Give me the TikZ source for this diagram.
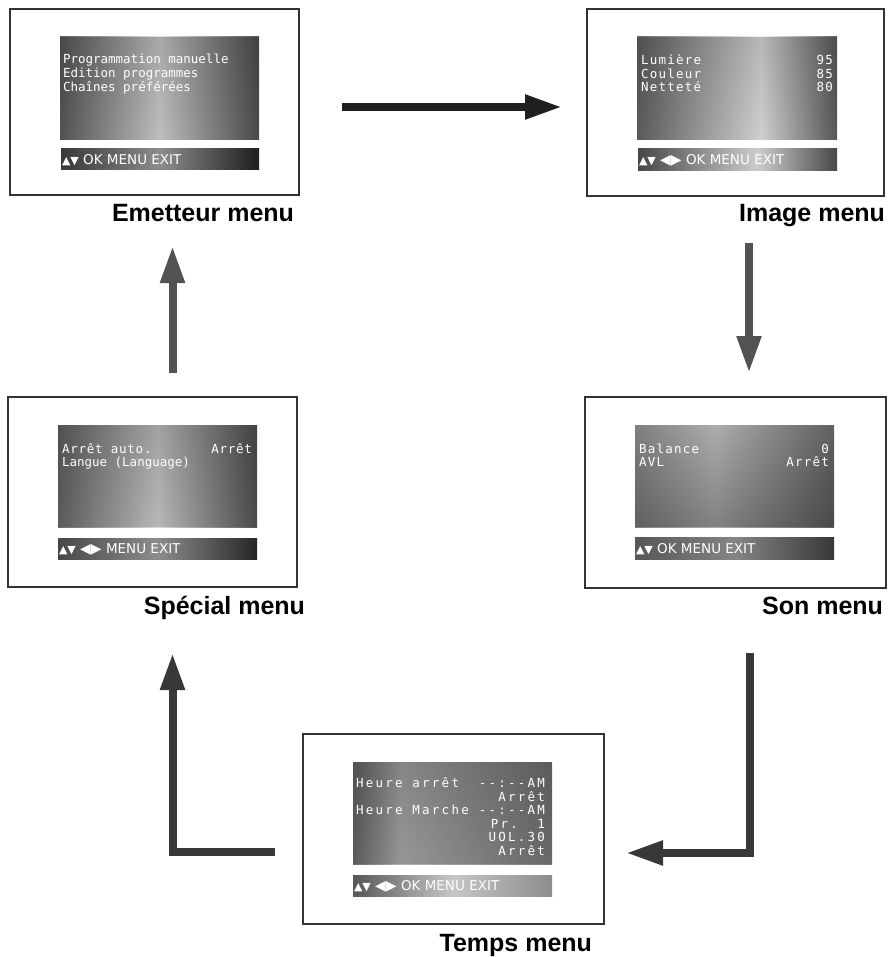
\documentclass[tikz,border=0pt]{standalone}
\usepackage{fontspec}
\setmainfont{Liberation Sans}
\newfontfamily\scrmono{DejaVu Sans Mono}
\newfontfamily\barfnt{DejaVu Sans}
\usetikzlibrary{arrows.meta,fadings}

\tikzfading[name=vfade, top color=transparent!75, middle color=transparent!100, bottom color=transparent!85]
\tikzfading[name=bfade, top color=transparent!100, bottom color=transparent!75]

\pgfdeclarehorizontalshading{shE}{100bp}{color(0bp)=(black!62); color(25bp)=(black!62); color(50bp)=(black!12); color(75bp)=(black!66); color(100bp)=(black!66)}
\pgfdeclarehorizontalshading{shI}{100bp}{color(0bp)=(black!58); color(25bp)=(black!58); color(56bp)=(black!4); color(75bp)=(black!60); color(100bp)=(black!60)}
\pgfdeclarehorizontalshading{shS}{100bp}{color(0bp)=(black!58); color(25bp)=(black!58); color(50bp)=(black!15); color(75bp)=(black!66); color(100bp)=(black!66)}
\pgfdeclarehorizontalshading{shN}{100bp}{color(0bp)=(black!50); color(25bp)=(black!50); color(45bp)=(black!32); color(75bp)=(black!62); color(100bp)=(black!62)}
\pgfdeclarehorizontalshading{shT}{100bp}{color(0bp)=(black!58); color(25bp)=(black!58); color(37bp)=(black!30); color(75bp)=(black!52); color(100bp)=(black!52)}

\pgfdeclarehorizontalshading{bE}{100bp}{color(0bp)=(black!78); color(25bp)=(black!78); color(50bp)=(black!45); color(75bp)=(black!88); color(100bp)=(black!88)}
\pgfdeclarehorizontalshading{bI}{100bp}{color(0bp)=(black!72); color(25bp)=(black!72); color(55bp)=(black!20); color(75bp)=(black!72); color(100bp)=(black!72)}
\pgfdeclarehorizontalshading{bS}{100bp}{color(0bp)=(black!72); color(25bp)=(black!72); color(50bp)=(black!45); color(75bp)=(black!85); color(100bp)=(black!85)}
\pgfdeclarehorizontalshading{bN}{100bp}{color(0bp)=(black!66); color(25bp)=(black!66); color(50bp)=(black!48); color(75bp)=(black!78); color(100bp)=(black!78)}
\pgfdeclarehorizontalshading{bT}{100bp}{color(0bp)=(black!66); color(25bp)=(black!66); color(50bp)=(black!22); color(75bp)=(black!45); color(100bp)=(black!45)}

\newcommand{\trifnt}{\barfnt\fontsize{11}{12}\selectfont}
\newcommand{\lrfnt}{\barfnt\fontsize{14}{15}\selectfont}

\tikzset{
  frame/.style={draw=black!80, line width=1.4pt, inner sep=0pt, outer sep=0pt},
  screen/.style={inner sep=0pt, outer sep=0pt, shade},
  scr/.style={text=white, inner sep=0pt, outer sep=0pt, font=\scrmono\fontsize{12.5}{14}\selectfont},
  bartxt/.style={text=white, inner sep=0pt, outer sep=0pt, font=\barfnt\fontsize{13.5}{15}\selectfont},
  lbl/.style={text=black, inner sep=0pt, outer sep=0pt, font=\bfseries\fontsize{25}{30}\selectfont},
  flowarrow/.style={line width=8pt, -{Triangle[length=37pt,width=23pt]}}
}

\begin{document}
\begin{tikzpicture}[x=1pt,y=-1pt]
\useasboundingbox (0,0) rectangle (889,957);

% ---------- frames ----------
\node[frame, minimum width=289pt, minimum height=186pt] (emF) at (154.5,102) {};
\node[frame, minimum width=297pt, minimum height=187pt] (imF) at (735.5,102.5) {};
\node[frame, minimum width=289pt, minimum height=190pt] (spF) at (152.5,492) {};
\node[frame, minimum width=301pt, minimum height=191pt] (soF) at (735.5,492.5) {};
\node[frame, minimum width=301pt, minimum height=190pt] (teF) at (453.5,829) {};

% ---------- screens ----------
\node[screen, shading=shE, minimum width=199pt, minimum height=103pt] (emS) at (159.5,88.5) {};
\node[screen, shading=shI, minimum width=200pt, minimum height=103pt] (imS) at (737,88.5) {};
\node[screen, shading=shS, minimum width=199pt, minimum height=102pt] (spS) at (157.5,476) {};
\node[screen, shading=shN, minimum width=199pt, minimum height=102pt] (soS) at (734.5,476) {};
\node[screen, shading=shT, minimum width=199pt, minimum height=102pt] (teS) at (452.5,813) {};
\fill[black, path fading=vfade] (emS.south west) rectangle (emS.north east);
\fill[black, path fading=vfade] (imS.south west) rectangle (imS.north east);
\fill[black, path fading=vfade] (spS.south west) rectangle (spS.north east);
\fill[black, path fading=bfade] (soS.south west) rectangle (soS.north east);
\fill[black, path fading=vfade] (teS.south west) rectangle (teS.north east);

% ---------- bars ----------
\node[screen, shading=bE, minimum width=198pt, minimum height=21pt] (emB) at (160,159.5) {};
\node[screen, shading=bI, minimum width=199pt, minimum height=22pt] (imB) at (737.5,160) {};
\node[screen, shading=bS, minimum width=199pt, minimum height=21pt] (spB) at (157.5,548.5) {};
\node[screen, shading=bN, minimum width=199pt, minimum height=22pt] (soB) at (734.5,548) {};
\node[screen, shading=bT, minimum width=199pt, minimum height=21pt] (teB) at (452.5,885.5) {};

\node[bartxt, anchor=base west] (emBt) at (62,164.5) {{\trifnt ▲▼} OK MENU EXIT};
\node[bartxt, anchor=base west] (imBt) at (639,165) {{\trifnt ▲▼} {\lrfnt ◀▶} OK MENU EXIT};
\node[bartxt, anchor=base west] (spBt) at (59,553.5) {{\trifnt ▲▼} {\lrfnt ◀▶} MENU EXIT};
\node[bartxt, anchor=base west] (soBt) at (636,553) {{\trifnt ▲▼} OK MENU EXIT};
\node[bartxt, anchor=base west] (teBt) at (354,890.5) {{\trifnt ▲▼} {\lrfnt ◀▶} OK MENU EXIT};

% ---------- screen texts ----------
\node[scr, anchor=base west] (em1) at (63,64) {Programmation manuelle};
\node[scr, anchor=base west] (em2) at (63,78) {Edition programmes};
\node[scr, anchor=base west] (em3) at (63,91.5) {Chaînes préférées};

\begin{scope}[scr/.append style={font=\scrmono\fontsize{12.5}{14}\selectfont\addfontfeatures{LetterSpace=10}}]
\node[scr, anchor=base west] (im1) at (641,65) {Lumière};
\node[scr, anchor=base west] (im2) at (641,78.5) {Couleur};
\node[scr, anchor=base west] (im3) at (641,92) {Netteté};
\node[scr, anchor=base east] (im1v) at (833,65) {95};
\node[scr, anchor=base east] (im2v) at (833,78.5) {85};
\node[scr, anchor=base east] (im3v) at (833,92) {80};
\node[scr, anchor=base west] (so1) at (639,453) {Balance};
\node[scr, anchor=base west] (so2) at (639,466.5) {AVL};
\node[scr, anchor=base east] (so1v) at (829,453) {0};
\node[scr, anchor=base east] (so2v) at (829,466.5) {Arrêt};
\end{scope}

\begin{scope}[scr/.append style={font=\scrmono\fontsize{12.5}{14}\selectfont\addfontfeatures{LetterSpace=6}}]
\node[scr, anchor=base west] (sp1) at (62,453) {Arrêt auto.};
\node[scr, anchor=base east] (sp1v) at (252,453) {Arrêt};
\end{scope}
\node[scr, anchor=base west] (sp2) at (62,466.5) {Langue (Language)};

\begin{scope}[scr/.append style={font=\scrmono\fontsize{12.5}{14}\selectfont\addfontfeatures{LetterSpace=18}}]
\node[scr, anchor=base west] (te1) at (356,787) {Heure arrêt};
\node[scr, anchor=base west] (te3) at (356,814.5) {Heure Marche};
\node[scr, anchor=base east] (te1v) at (545,787) {-{}-:-{}-AM};
\node[scr, anchor=base east] (te2v) at (545,801) {Arrêt};
\node[scr, anchor=base east] (te3v) at (545,814.5) {-{}-:-{}-AM};
\node[scr, anchor=base east] (te4v) at (545,828) {Pr.~~1};
\node[scr, anchor=base east] (te5v) at (545,841.5) {UOL.30};
\node[scr, anchor=base east] (te6v) at (545,855) {Arrêt};
\end{scope}

% ---------- labels ----------
\node[lbl, anchor=base] (emL) at (203,222) {Emetteur menu};
\node[lbl, anchor=base east] (imL) at (885,222) {Image menu};
\node[lbl, anchor=base east] (spL) at (305,614) {Spécial menu};
\node[lbl, anchor=base east] (soL) at (883,614) {Son menu};
\node[lbl, anchor=base east] (teL) at (592,951) {Temps menu};

% ---------- connectors ----------
\coordinate (a1s) at (342,107);   \coordinate (a1e) at (562,107);
\coordinate (a2s) at (749,243);   \coordinate (a2e) at (749,373);
\coordinate (a3s) at (749.5,653); \coordinate (a3c) at (749.5,853); \coordinate (a3e) at (626,853);
\coordinate (a4s) at (275,852);   \coordinate (a4c) at (172.5,852); \coordinate (a4e) at (172.5,653);
\coordinate (a5s) at (172.5,373); \coordinate (a5e) at (172.5,246);

\draw[flowarrow, draw=black!88] (a1s) -- (a1e);
\draw[flowarrow, draw=black!68] (a2s) -- (a2e);
\draw[flowarrow, draw=black!78, line join=miter] (a3s) -- (a3c) -- (a3e);
\draw[flowarrow, draw=black!78, line join=miter] (a4s) -- (a4c) -- (a4e);
\draw[flowarrow, draw=black!68] (a5s) -- (a5e);
\end{tikzpicture}
\end{document}
